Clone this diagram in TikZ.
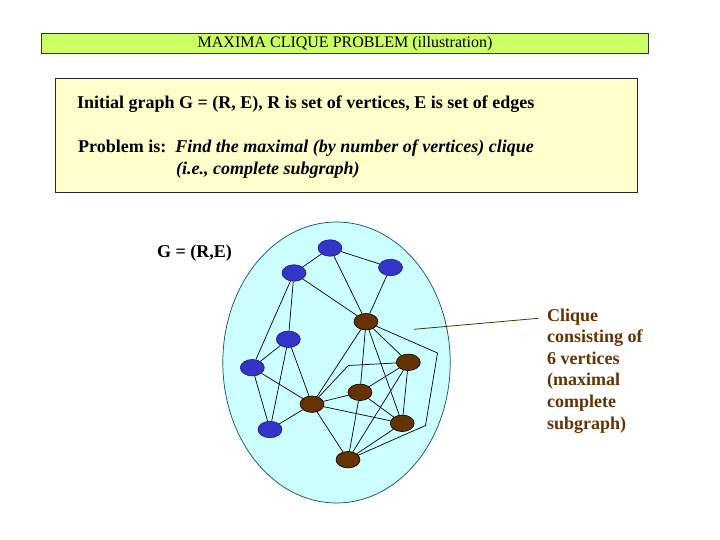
\documentclass[tikz,border=0pt]{standalone}
\usepackage{fontspec}
\setmainfont{Liberation Serif}
\usetikzlibrary{shapes.geometric}
\definecolor{titlefill}{HTML}{CCFF66}
\definecolor{infofill}{HTML}{FFFFCC}
\definecolor{ellfill}{HTML}{CCFFFF}
\definecolor{elldraw}{HTML}{0B4F66}
\definecolor{bluefill}{HTML}{3434C8}
\definecolor{bluedraw}{HTML}{1A1A80}
\definecolor{brownfill}{HTML}{663300}
\definecolor{cliquetxt}{HTML}{663300}
\definecolor{leader}{HTML}{4D3300}
\tikzset{
  bvert/.style={ellipse, fill=bluefill, draw=bluedraw, line width=0.6pt, minimum width=24pt, minimum height=16.5pt, inner sep=0pt},
  cvert/.style={ellipse, fill=brownfill, draw=black, line width=0.6pt, minimum width=24pt, minimum height=16.5pt, inner sep=0pt},
  edge/.style={draw=black, line width=0.7pt},
  bigtxt/.style={font=\fontsize{18}{21.6}\selectfont\bfseries, inner sep=0pt, anchor=base west},
  clqtxt/.style={font=\fontsize{18}{21.6}\selectfont\bfseries, text=cliquetxt, inner sep=0pt, anchor=base west}
}
\begin{document}
\begin{tikzpicture}[x=1pt,y=-1pt]
\useasboundingbox (0,0) rectangle (720,540);
\fill[white] (0,0) rectangle (720,540);
% title box
\node[draw=black!80, line width=0.8pt, fill=titlefill, minimum width=607pt, minimum height=20pt, inner sep=0pt, anchor=north west] (title) at (41,33) {};
\node[font=\fontsize{16}{19}\selectfont, inner sep=0pt] (titletext) at (345,43.5) {MAXIMA CLIQUE PROBLEM (illustration)};
% info box
\node[draw=black!85, line width=0.8pt, fill=infofill, minimum width=582pt, minimum height=114pt, inner sep=0pt, anchor=north west] (info) at (55,78) {};
\node[bigtxt] (line1) at (77,109) {Initial graph G = (R, E), R is set of vertices, E is set of edges};
\node[bigtxt] (line2) at (78,153) {Problem is:\, \textit{Find the maximal (by number of vertices) clique}};
\node[bigtxt] (line3) at (176,174.6) {\textit{(i.e., complete subgraph)}};
% graph region
\node[ellipse, fill=ellfill, draw=elldraw, line width=0.7pt, minimum width=227.4pt, minimum height=281pt, inner sep=0pt] (region) at (336.5,362.5) {};
\node[bigtxt] (glabel) at (157,257) {G = (R,E)};
% vertices
\node[bvert] (B1) at (330,248) {};
\node[bvert] (B2) at (390.5,267.5) {};
\node[bvert] (B3) at (294,273) {};
\node[bvert] (B4) at (288.3,339.3) {};
\node[bvert] (B5) at (252.3,367.7) {};
\node[bvert] (B6) at (270,429.5) {};
\node[cvert] (C1) at (366,321.7) {};
\node[cvert] (C2) at (408.3,362.3) {};
\node[cvert] (C3) at (360,392.3) {};
\node[cvert] (C4) at (312,404.2) {};
\node[cvert] (C5) at (402.2,423.3) {};
\node[cvert] (C6) at (348,459.7) {};
\coordinate (P1) at (437.5,353);
\coordinate (P2) at (425.5,425.5);
\coordinate (P3) at (348.3,365.5);
% edges
\draw[edge] (B1) -- (B2);
\draw[edge] (B1) -- (B3);
\draw[edge] (B1) -- (C1);
\draw[edge] (B2) -- (C1);
\draw[edge] (B3) -- (C1);
\draw[edge] (B3) -- (B4);
\draw[edge] (B3) -- (B5);
\draw[edge] (B4) -- (B5);
\draw[edge] (B4) -- (B6);
\draw[edge] (B4) -- (C4);
\draw[edge] (B5) -- (B6);
\draw[edge] (B5) -- (C4);
\draw[edge] (B6) -- (C4);
\draw[edge] (C1) -- (C2);
\draw[edge] (C1) -- (C3);
\draw[edge] (C1) -- (C4);
\draw[edge] (C1) -- (C5);
\draw[edge] (C1) -- (P1) -- (P2) -- (C6);
\draw[edge] (C2) -- (P3) -- (C4);
\draw[edge] (C2) -- (C3);
\draw[edge] (C2) -- (C5);
\draw[edge] (C2) -- (C6);
\draw[edge] (C3) -- (C4);
\draw[edge] (C3) -- (C5);
\draw[edge] (C3) -- (C6);
\draw[edge] (C4) -- (C5);
\draw[edge] (C4) -- (C6);
\draw[edge] (C5) -- (C6);
% clique label
\coordinate (L1) at (414,329.3);
\coordinate (L2) at (538.3,318.3);
\draw[leader, line width=0.8pt] (L1) -- (L2);
\node[clqtxt] (q1) at (547,321) {Clique};
\node[clqtxt] (q2) at (547,342.6) {consisting of};
\node[clqtxt] (q3) at (547,364.2) {6 vertices};
\node[clqtxt] (q4) at (547,385.8) {(maximal};
\node[clqtxt] (q5) at (547,407.4) {complete};
\node[clqtxt] (q6) at (547,429) {subgraph)};
\end{tikzpicture}
\end{document}
